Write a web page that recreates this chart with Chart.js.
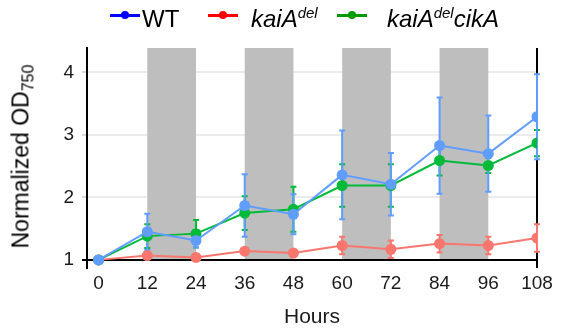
<!DOCTYPE html>
<html>
<head>
<meta charset="utf-8">
<script src="https://cdn.jsdelivr.net/npm/chart.js@4/dist/chart.umd.min.js"></script>
<style>
  html, body { margin: 0; padding: 0; background: #fff; }
  #wrap { position: relative; width: 561px; height: 333px; overflow: hidden; font-family: "Liberation Sans", Arial, sans-serif; color: #1a1a1a; }
  #c { position: absolute; left: 0; top: 0; }
  .lg-line { position: absolute; height: 3px; }
  .lg-dot { position: absolute; width: 8px; height: 8px; border-radius: 50%; }
  .lg-txt { position: absolute; font-size: 24px; line-height: 24px; white-space: nowrap; color: #000; }
  .lg-txt i sup { font-size: 15px; vertical-align: 0; position: relative; top: -9px; }
  #ytitle { position: absolute; font-size: 23px; line-height: 24px; white-space: nowrap; transform-origin: center center; color: #000; }
  #ytitle sub { font-size: 16px; vertical-align: 0; position: relative; top: 5px; }
</style>
</head>
<body>
<div id="wrap">
  <canvas id="c" width="561" height="333"></canvas>
  <div class="lg-line" style="left:110px;top:14px;width:30px;background:#0000ff"></div>
  <div class="lg-dot" style="left:121px;top:11px;background:#0000ff"></div>
  <div class="lg-txt" style="left:142px;top:7px">WT</div>
  <div class="lg-line" style="left:208px;top:14px;width:30px;background:#ff0000"></div>
  <div class="lg-dot" style="left:219px;top:11px;background:#ff0000"></div>
  <div class="lg-txt" style="left:251px;top:7px"><i>kaiA<sup>del</sup></i></div>
  <div class="lg-line" style="left:337px;top:14px;width:30px;background:#009a00"></div>
  <div class="lg-dot" style="left:348px;top:11px;background:#009a00"></div>
  <div class="lg-txt" style="left:387px;top:7px"><i>kaiA<sup>del</sup>cikA</i></div>
  <div id="ytitle">Normalized OD<sub>750</sub></div>
</div>
<script>
// ---- data ----
const hours   = [0, 12, 24, 36, 48, 60, 72, 84, 96, 108];
const wtMean  = [1.00, 1.45, 1.31, 1.87, 1.73, 2.36, 2.21, 2.83, 2.70, 3.29];
const wtErr   = [0.00, 0.29, 0.11, 0.50, 0.32, 0.71, 0.50, 0.77, 0.61, 0.68];
const delMean = [1.00, 1.07, 1.04, 1.14, 1.11, 1.23, 1.17, 1.26, 1.23, 1.35];
const delErr  = [0.00, 0.02, 0.02, 0.03, 0.03, 0.14, 0.14, 0.14, 0.14, 0.22];
const cikMean = [1.00, 1.38, 1.42, 1.75, 1.81, 2.19, 2.19, 2.59, 2.51, 2.87];
const cikErr  = [0.00, 0.19, 0.22, 0.27, 0.36, 0.34, 0.34, 0.24, 0.12, 0.21];
const darkStarts = [12, 36, 60, 84];
const darkLength = 12;
const xTicks = [0, 12, 24, 36, 48, 60, 72, 84, 96, 108];
const yTicks = [1, 2, 3, 4];

const seriesColors = { wt: '#619CFF', del: '#F8766D', cik: '#00BA38' };

function pts(means) { return hours.map((h, i) => ({ x: h, y: means[i] })); }

const errSets = [
  { mean: delMean, err: delErr, color: seriesColors.del },
  { mean: cikMean, err: cikErr, color: seriesColors.cik },
  { mean: wtMean,  err: wtErr,  color: seriesColors.wt }
];

const backgroundPlugin = {
  id: 'bg',
  beforeDatasetsDraw(chart) {
    const { ctx, chartArea: a, scales: { x, y } } = chart;
    ctx.save();
    // dark periods
    ctx.fillStyle = '#bebebe';
    const yb = y.getPixelForValue(1);
    darkStarts.forEach(s => {
      const x0 = x.getPixelForValue(s), x1 = x.getPixelForValue(s + darkLength);
      ctx.fillRect(x0, a.top, x1 - x0, yb - a.top);
    });
    // baseline at 1 and vertical line at last hour
    ctx.strokeStyle = '#000';
    ctx.lineWidth = 2;
    ctx.beginPath();
    ctx.moveTo(a.left - 5, yb);
    ctx.lineTo(x.getPixelForValue(108), yb);
    ctx.stroke();
    ctx.beginPath();
    const xr = x.getPixelForValue(108);
    ctx.moveTo(xr, a.top);
    ctx.lineTo(xr, a.bottom);
    ctx.stroke();
    // error bars
    ctx.lineWidth = 2;
    errSets.forEach(s => {
      ctx.strokeStyle = s.color;
      hours.forEach((h, i) => {
        if (!s.err[i]) return;
        const px = x.getPixelForValue(h);
        const top = y.getPixelForValue(s.mean[i] + s.err[i]);
        const bot = y.getPixelForValue(s.mean[i] - s.err[i]);
        ctx.beginPath();
        ctx.moveTo(px, top); ctx.lineTo(px, bot);
        ctx.moveTo(px - 3, top); ctx.lineTo(px + 3, top);
        ctx.moveTo(px - 3, bot); ctx.lineTo(px + 3, bot);
        ctx.stroke();
      });
    });
    ctx.restore();
  }
};

new Chart(document.getElementById('c'), {
  type: 'line',
  data: {
    datasets: [
      { label: 'WT', data: pts(wtMean), borderColor: seriesColors.wt, backgroundColor: seriesColors.wt, order: 0 },
      { label: 'kaiA del cikA', data: pts(cikMean), borderColor: seriesColors.cik, backgroundColor: seriesColors.cik, order: 1 },
      { label: 'kaiA del', data: pts(delMean), borderColor: seriesColors.del, backgroundColor: seriesColors.del, order: 2 }
    ]
  },
  options: {
    responsive: false,
    animation: false,
    devicePixelRatio: 1,
    layout: { padding: { top: 48, right: 24, left: 0, bottom: 0 } },
    elements: {
      line: { borderWidth: 2, tension: 0 },
      point: { radius: 5.5, borderWidth: 0, hoverRadius: 5.5 }
    },
    plugins: { legend: { display: false }, tooltip: { enabled: false } },
    scales: {
      x: {
        type: 'linear', min: -2.85, max: 108,
        afterBuildTicks(s) { s.ticks = xTicks.map(v => ({ value: v })); },
        afterFit(s) { s.height = 65; },
        grid: { display: false, drawTicks: false },
        border: { display: false },
        ticks: { color: '#1a1a1a', font: { family: 'Liberation Sans', size: 19 }, padding: 4, maxRotation: 0, autoSkip: false },
        title: { display: true, text: 'Hours', color: '#1a1a1a', font: { family: 'Liberation Sans', size: 21 }, padding: { top: 0, bottom: 3 } }
      },
      y: {
        type: 'linear', min: 0.87, max: 4.39,
        afterBuildTicks(s) { s.ticks = yTicks.map(v => ({ value: v })); },
        afterFit(s) { s.width = 87; },
        grid: { color: '#ebebeb', lineWidth: 2, tickLength: 5, tickColor: '#d9d9d9' },
        border: { display: true, color: '#000', width: 2 },
        ticks: { color: '#1a1a1a', font: { family: 'Liberation Sans', size: 19 }, padding: 8 }
      }
    }
  },
  plugins: [backgroundPlugin]
});

// position rotated y-title
const yt = document.getElementById('ytitle');
const w = yt.offsetWidth, h = yt.offsetHeight;
yt.style.left = (22 - w / 2) + 'px';
yt.style.top = (156 - h / 2) + 'px';
yt.style.transform = 'rotate(-90deg)';
</script>
</body>
</html>
